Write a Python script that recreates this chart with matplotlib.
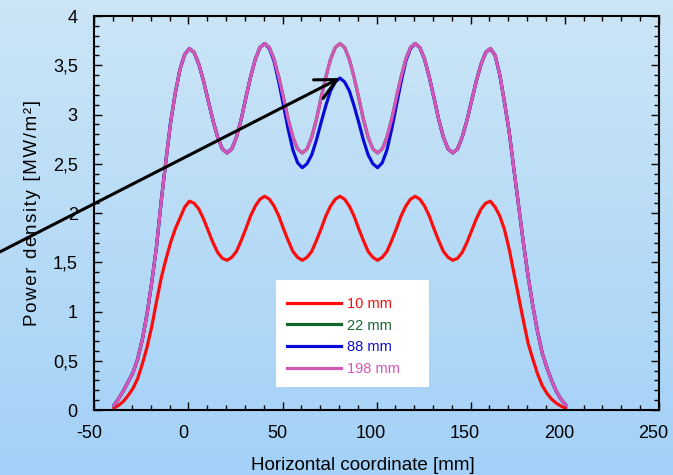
import numpy as np
import matplotlib.pyplot as plt
from matplotlib.patches import Rectangle
from matplotlib.ticker import MultipleLocator, FuncFormatter
from matplotlib.transforms import ScaledTranslation

plt.rcParams['font.family'] = ['Liberation Sans', 'DejaVu Sans']
plt.rcParams['axes.unicode_minus'] = False

# horizontal sampling positions [mm]
x_mm = np.arange(-39.5, 201.0, 2.5)

# power density [MW/m2] for each distance
power_10 = [
    0.02, 0.05, 0.09, 0.15, 0.22, 0.32, 0.47, 0.64, 0.85, 1.10, 1.34, 1.53, 1.70, 1.84, 1.95, 2.06, 2.12,
    2.10, 2.04, 1.94, 1.82, 1.70, 1.60, 1.54, 1.52,
    1.55, 1.61, 1.72, 1.84, 1.97, 2.07, 2.14, 2.17,
    2.14, 2.07, 1.97, 1.84, 1.72, 1.61, 1.55, 1.52,
    1.55, 1.61, 1.72, 1.84, 1.97, 2.07, 2.14, 2.17,
    2.14, 2.07, 1.97, 1.84, 1.72, 1.61, 1.55, 1.52,
    1.55, 1.61, 1.72, 1.84, 1.97, 2.07, 2.14, 2.17,
    2.14, 2.07, 1.97, 1.84, 1.72, 1.61, 1.55, 1.52,
    1.54, 1.60, 1.70, 1.82, 1.94, 2.04, 2.10, 2.12,
    2.06, 1.97, 1.83, 1.63, 1.39, 1.15, 0.91, 0.68, 0.52, 0.37, 0.25, 0.17, 0.11, 0.07, 0.04, 0.02,
]
power_22 = [
    0.05, 0.12, 0.20, 0.29, 0.38, 0.52, 0.72, 0.98, 1.30, 1.66, 2.12, 2.53, 2.92, 3.22, 3.46, 3.61, 3.67,
    3.63, 3.51, 3.34, 3.14, 2.94, 2.77, 2.65, 2.61,
    2.65, 2.77, 2.95, 3.17, 3.38, 3.56, 3.68, 3.72,
    3.68, 3.56, 3.38, 3.17, 2.95, 2.77, 2.65, 2.61,
    2.65, 2.77, 2.95, 3.17, 3.38, 3.56, 3.68, 3.72,
    3.68, 3.56, 3.38, 3.17, 2.95, 2.77, 2.65, 2.61,
    2.65, 2.77, 2.95, 3.17, 3.38, 3.56, 3.68, 3.72,
    3.68, 3.56, 3.38, 3.17, 2.95, 2.77, 2.65, 2.61,
    2.65, 2.77, 2.94, 3.14, 3.34, 3.51, 3.63, 3.67,
    3.60, 3.40, 3.12, 2.82, 2.44, 2.07, 1.70, 1.36, 1.06, 0.80, 0.58, 0.43, 0.30, 0.19, 0.11, 0.05,
]
power_88 = [
    0.05, 0.12, 0.20, 0.29, 0.38, 0.52, 0.72, 0.98, 1.30, 1.66, 2.12, 2.53, 2.92, 3.22, 3.46, 3.61, 3.67,
    3.63, 3.51, 3.34, 3.14, 2.94, 2.77, 2.65, 2.61,
    2.65, 2.77, 2.95, 3.17, 3.38, 3.56, 3.68, 3.72,
    3.67, 3.54, 3.33, 3.09, 2.85, 2.64, 2.51, 2.46,
    2.50, 2.59, 2.74, 2.92, 3.09, 3.24, 3.33, 3.37,
    3.33, 3.24, 3.09, 2.92, 2.74, 2.59, 2.50, 2.46,
    2.51, 2.64, 2.85, 3.09, 3.33, 3.54, 3.67, 3.72,
    3.68, 3.56, 3.38, 3.17, 2.95, 2.77, 2.65, 2.61,
    2.65, 2.77, 2.94, 3.14, 3.34, 3.51, 3.63, 3.67,
    3.60, 3.40, 3.12, 2.82, 2.44, 2.07, 1.70, 1.36, 1.06, 0.80, 0.58, 0.43, 0.30, 0.19, 0.11, 0.05,
]
power_198 = [
    0.05, 0.12, 0.20, 0.29, 0.38, 0.52, 0.72, 0.98, 1.30, 1.66, 2.12, 2.53, 2.92, 3.22, 3.46, 3.61, 3.67,
    3.63, 3.51, 3.34, 3.14, 2.94, 2.77, 2.65, 2.61,
    2.65, 2.77, 2.95, 3.17, 3.38, 3.56, 3.68, 3.72,
    3.68, 3.56, 3.38, 3.17, 2.95, 2.77, 2.65, 2.61,
    2.65, 2.77, 2.95, 3.17, 3.38, 3.56, 3.68, 3.72,
    3.68, 3.56, 3.38, 3.17, 2.95, 2.77, 2.65, 2.61,
    2.65, 2.77, 2.95, 3.17, 3.38, 3.56, 3.68, 3.72,
    3.68, 3.56, 3.38, 3.17, 2.95, 2.77, 2.65, 2.61,
    2.65, 2.77, 2.94, 3.14, 3.34, 3.51, 3.63, 3.67,
    3.60, 3.40, 3.12, 2.82, 2.44, 2.07, 1.70, 1.36, 1.06, 0.80, 0.58, 0.43, 0.30, 0.19, 0.11, 0.05,
]

series = [power_10, power_22, power_88, power_198]
labels = ['10 mm', '22 mm', '88 mm', '198 mm']
colors = ['#fb0d0d', '#14662a', '#0b0bd8', '#d457b7']

fig = plt.figure(figsize=(6.73, 4.75), dpi=100)

# soft blue gradient behind everything
bg = fig.add_axes([0, 0, 1, 1], zorder=-10)
top_rgb = np.array([0.80, 0.90, 0.965])
bottom_rgb = np.array([0.64, 0.82, 0.97])
t = np.linspace(0, 1, 256)[:, None, None]
bg.imshow(top_rgb + (bottom_rgb - top_rgb) * t, aspect='auto', extent=[0, 1, 0, 1])
bg.axis('off')

ax = fig.add_axes([0.1403, 0.1368, 0.8386, 0.8295])
ax.patch.set_alpha(0)

for y, lab, col in zip(series, labels, colors):
    ax.plot(x_mm, y, color=col, lw=2.3, label=lab)

ax.set_xlim(-50, 250)
ax.set_ylim(0, 4)
ax.xaxis.set_major_locator(MultipleLocator(50))
ax.xaxis.set_minor_locator(MultipleLocator(10))
ax.yaxis.set_major_locator(MultipleLocator(0.5))
ax.yaxis.set_minor_locator(MultipleLocator(0.1))
ax.yaxis.set_major_formatter(FuncFormatter(lambda v, p: ('%g' % v).replace('.', ',')))

ax.tick_params(which='both', direction='in', top=True, right=True, width=1.0, labelsize=13)
ax.tick_params(which='major', length=5.8)
ax.tick_params(which='minor', length=3.6)
ax.tick_params(axis='x', pad=10.5)
ax.tick_params(axis='y', pad=12)
for side in ['top', 'right', 'bottom', 'left']:
    ax.spines[side].set_linewidth(1.5)

# x tick labels sit a little left of their ticks
shift = ScaledTranslation(-0.055, 0, fig.dpi_scale_trans)
for lbl in ax.get_xticklabels():
    lbl.set_transform(lbl.get_transform() + shift)

ax.set_xlabel('Horizontal coordinate [mm]', fontsize=13.5, labelpad=11)
ax.xaxis.label.set_x(0.476)
# letters of the vertical title are spread with hair spaces
ylab = '\u200a'.join('Power density [MW/m\u00b2]')
ax.set_ylabel(ylab, fontsize=13.5)
ax.yaxis.set_label_coords(-0.095, 0.5)

# white box holding the legend
ax.add_patch(Rectangle((0.321, 0.058), 0.271, 0.272, transform=ax.transAxes,
                       facecolor='white', edgecolor='none', zorder=4))
leg = ax.legend(loc='upper left', bbox_to_anchor=(0.341, 0.287), frameon=False,
                fontsize=10.5, handlelength=3.7, handletextpad=0.45, labelspacing=0.52,
                borderpad=0, borderaxespad=0, labelcolor='linecolor')
leg.set_zorder(5)

# arrow pointing at the 88 mm central peak
i_peak = int(np.argmin(np.abs(x_mm - 80.5)))
ax.annotate('', xy=(x_mm[i_peak], power_88[i_peak]), xycoords='data',
            xytext=(-0.008, 0.464), textcoords='figure fraction',
            arrowprops=dict(arrowstyle='->,head_length=1.5,head_width=0.75',
                            lw=2.2, color='black', shrinkA=0, shrinkB=0),
            annotation_clip=False, zorder=6)

fig.savefig('out.png', dpi=100)
